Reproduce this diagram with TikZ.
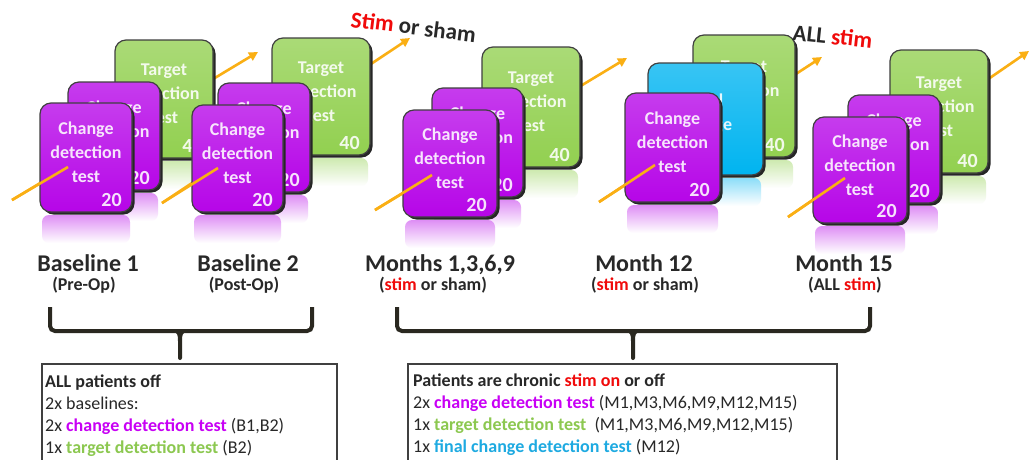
\documentclass[tikz,border=0pt]{standalone}
\usepackage{fontspec}
\setmainfont{Carlito}
\usetikzlibrary{arrows.meta,shadows}
\definecolor{mag}{RGB}{182,5,232}
\definecolor{magtxt}{RGB}{200,0,245}
\definecolor{grn}{RGB}{146,208,80}
\definecolor{grntxt}{RGB}{140,200,80}
\definecolor{cyn}{RGB}{0,180,240}
\definecolor{cyntxt}{RGB}{30,170,225}
\definecolor{arrc}{RGB}{250,175,20}
\definecolor{dark}{RGB}{40,40,40}
\definecolor{bracec}{RGB}{42,40,32}
\definecolor{redc}{RGB}{240,10,10}
\tikzset{
  tbox/.style={rounded corners=11pt, draw=black!75, line width=1.2pt, inner sep=0pt,
    drop shadow={shadow xshift=2.5pt, shadow yshift=-2.5pt, fill=black!85, opacity=1}},
  btxt/.style={text=white, text opacity=0.88, font=\bfseries\fontsize{18}{24}\selectfont, align=center, inner sep=0pt},
  bnum/.style={text=white, text opacity=0.88, font=\bfseries\fontsize{20}{22}\selectfont, inner sep=0pt},
  arr/.style={draw=arrc, line width=2.6pt, -{Triangle[length=9pt,width=9pt]}},
  arrline/.style={draw=arrc, line width=2.6pt},
  lab/.style={anchor=base, text=dark, font=\bfseries\fontsize{24}{28}\selectfont, inner sep=0pt},
  sublab/.style={anchor=base, text=dark, font=\bfseries\fontsize{18}{20}\selectfont, inner sep=0pt},
  toplab/.style={anchor=base west, text=dark, font=\bfseries\fontsize{23}{26}\selectfont, inner sep=0pt},
  bracepath/.style={draw=bracec, line width=4pt, rounded corners=5pt},
  infobox/.style={draw=black!75, line width=1.2pt, fill=white},
  infotxt/.style={anchor=base west, text=dark, font=\fontsize{18}{21}\selectfont, inner sep=0pt},
}
% name, x1, y1, x2, y2, colour, text, number
\newcommand\tstbox[8]{%
  \shade[top color=#6!45!white, bottom color=white, rounded corners=7pt] (#2+2,#5+3) rectangle (#4-2,#5+31);
  \node[tbox, top color=#6!78!white, middle color=#6, bottom color=#6,
        minimum width={(#4-#2)*1pt}, minimum height={(#5-#3)*1pt}]
        (#1) at ({(#2+#4)/2},{(#3+#5)/2}) {};
  \node[btxt] (#1t) at ([yshift=5pt]#1.center) {#7};
  \node[bnum] (#1n) at ([xshift=-21pt,yshift=13pt]#1.south east) {#8};
}
\begin{document}
\begin{tikzpicture}[x=1pt,y=-1pt]
\useasboundingbox (0,0) rectangle (1031,459);
\clip (0,0) rectangle (1031,459);
\fill[white] (0,0) rectangle (1031,459);

% arrow coordinates
\coordinate (a1s) at (12,200);  \coordinate (a1m) at (68,167);  \coordinate (a1e) at (258,52);
\coordinate (a2s) at (162,203); \coordinate (a2m) at (218,168); \coordinate (a2e) at (410,38);
\coordinate (a3s) at (375,210); \coordinate (a3m) at (432,175); \coordinate (a3e) at (627,58);
\coordinate (a4s) at (599,202); \coordinate (a4m) at (655,165); \coordinate (a4e) at (822,57);
\coordinate (a5s) at (788,217); \coordinate (a5m) at (845,178); \coordinate (a5e) at (1029,51);

% Baseline 1
\draw[arr] (a1s) -- (a1e);
\tstbox{g1}{115}{40}{213}{158}{grn}{Target\\detection\\test}{40}
\tstbox{m1b}{68}{82}{160}{190}{mag}{Change\\detection\\test}{20}
\tstbox{m1a}{40}{103}{132}{212}{mag}{Change\\detection\\test}{20}

% Baseline 2
\draw[arr] (a2s) -- (a2e);
\tstbox{g2}{272}{38}{370}{155}{grn}{Target\\detection\\test}{40}
\tstbox{m2b}{218}{83}{310}{192}{mag}{Change\\detection\\test}{20}
\tstbox{m2a}{192}{105}{283}{212}{mag}{Change\\detection\\test}{20}

% Months 1,3,6,9
\draw[arr] (a3s) -- (a3e);
\tstbox{g3}{482}{47}{580}{167}{grn}{Target\\detection\\test}{40}
\tstbox{m3b}{432}{88}{523}{197}{mag}{Change\\detection\\test}{20}
\tstbox{m3a}{403}{110}{497}{217}{mag}{Change\\detection\\test}{20}

% Month 12
\draw[arr] (a4s) -- (a4e);
\tstbox{g4}{693}{35}{795}{157}{grn}{Target\\detection\\test}{40}
\tstbox{c4}{648}{63}{763}{175}{cyn}{Final\\change}{}
\tstbox{m4a}{625}{93}{720}{202}{mag}{Change\\detection\\test}{20}

% Month 15
\draw[arr] (a5s) -- (a5e);
\tstbox{g5}{890}{50}{988}{173}{grn}{Target\\detection\\test}{40}
\tstbox{m5b}{848}{95}{940}{203}{mag}{Change\\detection\\test}{20}
\tstbox{m5a}{813}{117}{907}{223}{mag}{Change\\detection\\test}{20}

% visible front parts of the arrows
\draw[arrline] (a1s) -- (a1m);
\draw[arrline] (a2s) -- (a2m);
\draw[arrline] (a3s) -- (a3m);
\draw[arrline] (a4s) -- (a4m);
\draw[arrline] (a5s) -- (a5m);

% top labels
\node[toplab, rotate=-7] (stimsham) at (350,27) {\textcolor{redc}{Stim} or sham};
\node[toplab, rotate=-6] (allstim) at (792,40) {ALL \textcolor{redc}{stim}};

% time labels
\node[lab] (lb1) at (88,271) {Baseline 1};
\node[sublab] (sb1) at (84,290) {(Pre-Op)};
\node[lab] (lb2) at (248,271) {Baseline 2};
\node[sublab] (sb2) at (244,290) {(Post-Op)};
\node[lab] (lb3) at (440,271) {Months 1,3,6,9};
\node[sublab] (sb3) at (433,290) {(\textcolor{redc}{stim} or sham)};
\node[lab] (lb4) at (644,271) {Month 12};
\node[sublab] (sb4) at (645,290) {(\textcolor{redc}{stim} or sham)};
\node[lab] (lb5) at (844,271) {Month 15};
\node[sublab] (sb5) at (845,290) {(ALL \textcolor{redc}{stim})};

% braces
\coordinate (bl1) at (50,307); \coordinate (bl2) at (312,307); \coordinate (blt) at (180,331);
\coordinate (br1) at (397,307); \coordinate (br2) at (870,307); \coordinate (brt) at (633,331);
\draw[bracepath] (bl1) |- (blt) -| (bl2);
\draw[bracepath] (br1) |- (brt) -| (br2);
\fill[bracec] ([xshift=-9pt]blt) .. controls ([xshift=-2pt,yshift=-1pt]blt) and ([xshift=-2pt,yshift=-4pt]blt) .. ([xshift=-2pt,yshift=-10pt]blt)
   -- ([xshift=-2pt,yshift=-27pt]blt) arc[start angle=180, end angle=360, radius=2pt]
   -- ([xshift=2pt,yshift=-10pt]blt) .. controls ([xshift=2pt,yshift=-4pt]blt) and ([xshift=2pt,yshift=-1pt]blt) .. ([xshift=9pt]blt) -- cycle;
\fill[bracec] ([xshift=-9pt]brt) .. controls ([xshift=-2pt,yshift=-1pt]brt) and ([xshift=-2pt,yshift=-4pt]brt) .. ([xshift=-2pt,yshift=-10pt]brt)
   -- ([xshift=-2pt,yshift=-27pt]brt) arc[start angle=180, end angle=360, radius=2pt]
   -- ([xshift=2pt,yshift=-10pt]brt) .. controls ([xshift=2pt,yshift=-4pt]brt) and ([xshift=2pt,yshift=-1pt]brt) .. ([xshift=9pt]brt) -- cycle;

% info boxes
\draw[infobox] (42,364) rectangle (337,475);
\node[infotxt] (l1) at (45,387) {\textbf{ALL patients off}};
\node[infotxt] (l2) at (45,409) {2x baselines:};
\node[infotxt] (l3) at (45,431) {2x \textcolor{magtxt}{\textbf{change detection test}} (B1,B2)};
\node[infotxt] (l4) at (45,453) {1x \textcolor{grntxt}{\textbf{target detection test}} (B2)};

\draw[infobox] (408,364) rectangle (837,475);
\node[infotxt] (r1) at (413,386) {\textbf{Patients are chronic \textcolor{redc}{stim on} or off}};
\node[infotxt] (r2) at (413,408) {2x \textcolor{magtxt}{\textbf{change detection test}} (M1,M3,M6,M9,M12,M15)};
\node[infotxt] (r3) at (413,430) {1x \textcolor{grntxt}{\textbf{target detection test}}\ \ (M1,M3,M6,M9,M12,M15)};
\node[infotxt] (r4) at (413,452) {1x \textcolor{cyntxt}{\textbf{final change detection test}} (M12)};
\end{tikzpicture}
\end{document}
